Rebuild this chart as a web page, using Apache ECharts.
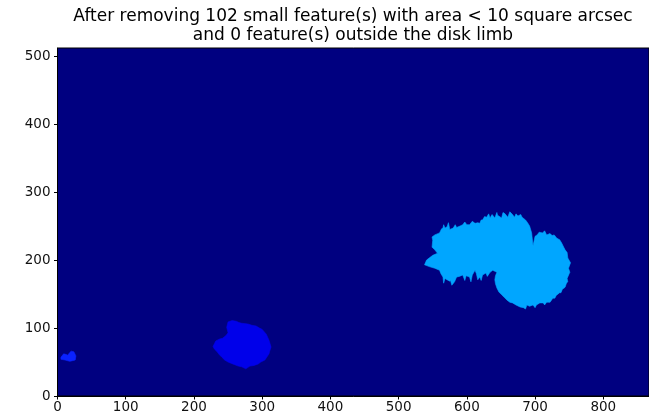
<!DOCTYPE html>
<html>
<head>
<meta charset="utf-8">
<script src="https://cdn.jsdelivr.net/npm/echarts@6/dist/echarts.min.js"></script>
<style>
  html, body { margin: 0; padding: 0; background: #fff; }
  #chart { width: 649px; height: 419px; }
</style>
</head>
<body>
<div id="chart"></div>
<script>
// Title text
const titleLines = [
  'After removing 102 small feature(s) with area < 10 square arcsec',
  'and 0 feature(s) outside the disk limb'
];

// Axis extents (pixels of the mask image) and tick labels
const xExtent = [0, 867];
const yExtent = [0, 512];
const xTicks = [0, 100, 200, 300, 400, 500, 600, 700, 800];
const yTicks = [0, 100, 200, 300, 400, 500];

// Remaining features: outline vertices [x, y] in image pixels
const featureSmall = [
  [5, 57], [9, 62], [13, 61], [15, 60], [18, 64], [20, 66], [24, 65],
  [27, 59], [26, 53], [22, 52], [18, 51], [11, 53], [5, 54]
];
const featureMid = [
  [250, 109], [256, 111], [262, 110], [266, 108], [270, 107], [279, 106],
  [285, 104], [291, 103], [296, 100], [300, 98], [306, 91], [310, 82],
  [313, 72], [311, 66], [310, 62], [304, 53], [298, 50], [294, 47],
  [288, 45], [282, 44], [276, 40], [270, 43], [265, 44], [260, 46],
  [255, 48], [250, 50], [245, 53], [241, 57], [237, 61], [234, 65],
  [230, 69], [228, 73], [230, 77], [232, 81], [238, 84], [242, 85],
  [247, 89], [250, 93], [248, 101]
];
const featureLarge = [
  [538, 193], [541, 200], [550, 207], [557, 210], [553, 215], [549, 219],
  [550, 229], [549, 234], [553, 237], [560, 240], [563, 246], [565, 247],
  [566, 252], [568, 247], [571, 249], [573, 255], [575, 245], [580, 247],
  [583, 252], [585, 248], [590, 250], [594, 252], [597, 256], [600, 252],
  [604, 252], [608, 257], [612, 254], [616, 255], [619, 254], [621, 259],
  [623, 259], [626, 264], [629, 263], [632, 268], [634, 262], [637, 267],
  [641, 262], [644, 270], [645, 266], [651, 262], [653, 270], [656, 268],
  [660, 263], [663, 271], [666, 268], [670, 263], [672, 268], [675, 265],
  [679, 267], [681, 263], [686, 259], [689, 255], [692, 250], [695, 240],
  [697, 221], [700, 235], [703, 237], [706, 241], [711, 240], [714, 243],
  [717, 237], [722, 239], [725, 236], [728, 237], [732, 232], [736, 230],
  [739, 225], [742, 219], [744, 215], [747, 211], [748, 203], [752, 196],
  [749, 188], [751, 182], [750, 180], [747, 173], [748, 168], [746, 166],
  [744, 160], [740, 157], [738, 152], [736, 152], [731, 148], [729, 144],
  [726, 144], [722, 138], [717, 138], [714, 134], [712, 137], [707, 137],
  [702, 134], [700, 130], [697, 134], [692, 132], [688, 134], [686, 128],
  [683, 130], [678, 131], [672, 134], [667, 137], [663, 138], [659, 141],
  [655, 145], [651, 149], [647, 153], [644, 159], [642, 165], [641, 171],
  [642, 177], [644, 182], [638, 185], [634, 182], [630, 176], [628, 181],
  [623, 178], [621, 170], [619, 175], [616, 171], [614, 180], [612, 185],
  [608, 178], [606, 168], [604, 175], [599, 177], [597, 170], [594, 178],
  [589, 176], [585, 175], [582, 168], [578, 163], [576, 170], [575, 169],
  [571, 171], [568, 173], [566, 166], [565, 175], [562, 180], [560, 185],
  [553, 188], [546, 190]
];

const features = [featureSmall, featureMid, featureLarge];
const featureColors = ['#0a22ff', '#0000ea', '#00a6ff'];

const chart = echarts.init(document.getElementById('chart'), null, { renderer: 'canvas' });

const fontFamily = 'DejaVu Sans';
const labelStyle = { color: '#111', fontSize: 13.5, fontFamily: fontFamily };

chart.setOption({
  animation: false,
  title: {
    text: titleLines.join('\n'),
    left: 353,
    top: 7,
    padding: 0,
    textAlign: 'center',
    textStyle: {
      color: '#000',
      fontSize: 17,
      fontWeight: 'normal',
      fontFamily: fontFamily,
      lineHeight: 19
    }
  },
  grid: {
    left: 57.5,
    top: 48,
    right: 0,
    bottom: 23,
    show: true,
    backgroundColor: '#000080',
    borderColor: '#000',
    borderWidth: 1
  },
  xAxis: {
    type: 'value',
    min: xExtent[0],
    max: xExtent[1],
    splitLine: { show: false },
    axisLine: { show: true, onZero: false, lineStyle: { color: '#000', width: 1 } },
    axisTick: { show: true, length: 3.5, customValues: xTicks, lineStyle: { color: '#000' } },
    axisLabel: Object.assign({ margin: 4, customValues: xTicks }, labelStyle)
  },
  yAxis: {
    type: 'value',
    min: yExtent[0],
    max: yExtent[1],
    splitLine: { show: false },
    axisLine: { show: true, onZero: false, lineStyle: { color: '#000', width: 1 } },
    axisTick: { show: true, length: 3.5, customValues: yTicks, lineStyle: { color: '#000' } },
    axisLabel: Object.assign({ margin: 7, customValues: yTicks }, labelStyle)
  },
  series: [{
    type: 'custom',
    coordinateSystem: 'cartesian2d',
    clip: true,
    data: features.map((f, i) => [i]),
    renderItem: function (params, api) {
      const idx = api.value(0);
      const pts = features[idx].map(p => api.coord(p));
      return {
        type: 'polygon',
        shape: { points: pts },
        style: { fill: featureColors[idx], stroke: featureColors[idx], lineWidth: 0.6 }
      };
    }
  }]
});
</script>
</body>
</html>
